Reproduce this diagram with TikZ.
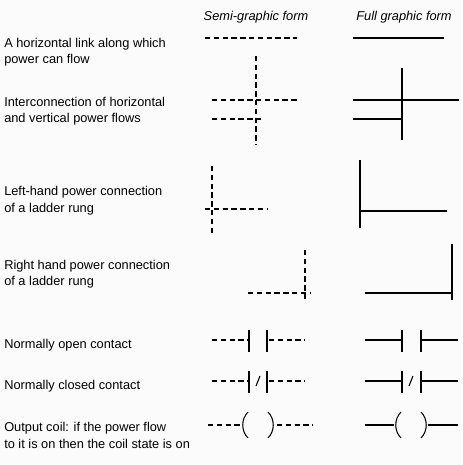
\documentclass[tikz,border=0pt]{standalone}
\usepackage{fontspec}
\setmainfont{Liberation Sans}
\begin{document}
\begin{tikzpicture}[x=0.75pt, y=-0.75pt,
    label/.style={anchor=base west, inner sep=0pt, font=\fontsize{9.6}{12}\selectfont},
    head/.style={anchor=base, inner sep=0pt, font=\fontsize{9.6}{12}\selectfont\itshape},
    semi/.style={line width=0.8pt, dash pattern=on 4pt off 2.6pt},
    full/.style={line width=0.8pt},
    bar/.style={line width=0.8pt}]
  \fill[gray!3] (0,0) rectangle (462,465);
  \useasboundingbox (0,0) rectangle (462,465);
  % headings
  \node[head] (hsemi) at (256,20) {Semi-graphic form};
  \node[head] (hfull) at (404,20) {Full graphic form};
  % descriptions
  \node[label] (t1a) at (4,47) {A horizontal link along which};
  \node[label] (t1b) at (4,63) {power can flow};
  \node[label] (t2a) at (4,106) {Interconnection of horizontal};
  \node[label] (t2b) at (4,122) {and vertical power flows};
  \node[label] (t3a) at (4,195) {Left-hand power connection};
  \node[label] (t3b) at (4,212) {of a ladder rung};
  \node[label] (t4a) at (4,269) {Right hand power connection};
  \node[label] (t4b) at (4,285) {of a ladder rung};
  \node[label] (t5) at (4,348) {Normally open contact};
  \node[label] (t6) at (4,389) {Normally closed contact};
  \node[label] (t7a) at (4,431) {Output coil: if the power flow};
  \node[label] (t7b) at (4,448) {to it is on then the coil state is on};
  % horizontal link
  \draw[semi] (205,38) -- (297,38);
  \draw[full] (353,38) -- (444,38);
  % interconnection
  \draw[semi] (256,56) -- (256,145);
  \draw[semi] (212,100) -- (298,100);
  \draw[semi] (212,119) -- (261,119);
  \draw[full] (402,68) -- (402,140);
  \draw[full] (353,100) -- (459,100);
  \draw[full] (353,119) -- (402,119);
  % left-hand connection
  \draw[semi] (212,166) -- (212,233);
  \draw[semi] (205,209) -- (267,209);
  \draw[full] (360,160) -- (360,228);
  \draw[full] (360,211) -- (447,211);
  % right-hand connection
  \draw[semi] (305,250) -- (305,302);
  \draw[semi] (248,293) -- (311,293);
  \draw[full] (452,244) -- (452,300);
  \draw[full] (365,293) -- (452,293);
  % normally open contact
  \draw[semi] (212,340) -- (248,340);
  \draw[bar] (249,330) -- (249,352) (267,330) -- (267,352);
  \draw[semi] (269,340) -- (305,340);
  \draw[full] (365,340) -- (402,340);
  \draw[bar] (402,330) -- (402,352) (421,330) -- (421,352);
  \draw[full] (421,340) -- (458,340);
  % normally closed contact
  \draw[semi] (212,381) -- (248,381);
  \draw[bar] (249,371) -- (249,393) (267,371) -- (267,393);
  \draw[bar] (256,386) -- (260,376);
  \draw[semi] (269,381) -- (305,381);
  \draw[full] (365,381) -- (402,381);
  \draw[bar] (402,371) -- (402,393) (421,371) -- (421,393);
  \draw[bar] (409,386) -- (413,376);
  \draw[full] (421,381) -- (458,381);
  % output coil
  \draw[semi] (208,425) -- (240,425);
  \draw[bar] (248,412) .. controls (241,419) and (241,431) .. (248,438);
  \draw[bar] (268,412) .. controls (275,419) and (275,431) .. (268,438);
  \draw[semi] (277,425) -- (313,425);
  \draw[full] (365,425) -- (394,425);
  \draw[bar] (401,412) .. controls (394,419) and (394,431) .. (401,438);
  \draw[bar] (421,412) .. controls (428,419) and (428,431) .. (421,438);
  \draw[full] (428,425) -- (458,425);
\end{tikzpicture}
\end{document}
